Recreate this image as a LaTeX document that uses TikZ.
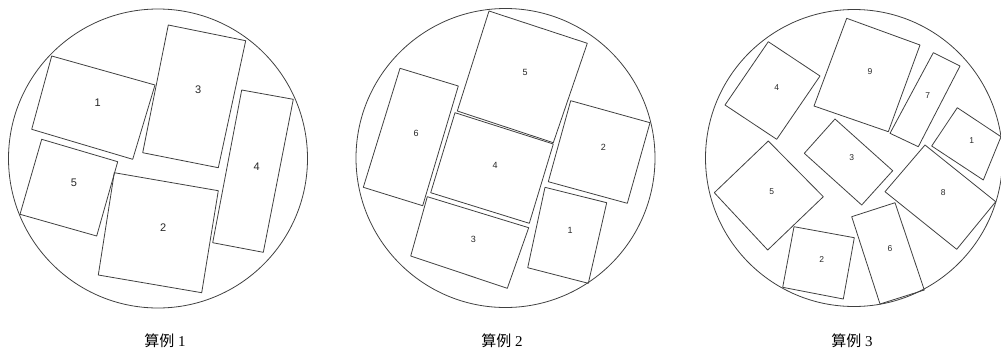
\documentclass[tikz,border=0pt]{standalone}
\usepackage{fontspec}
\setmainfont{Liberation Serif}
\newfontfamily\cjk{Noto Sans CJK SC}
\newfontfamily\lab{Liberation Sans}
\usetikzlibrary{positioning}

\begin{document}
\begin{tikzpicture}[x=1pt, y=-1pt, line join=round]
    \useasboundingbox (0,0) rectangle (1001,354);
    \tikzset{
      piece/.style={draw=black!75, line width=0.8pt},
      num/.style={font=\lab\fontsize{#1}{#1}\selectfont, text=black!85, inner sep=0pt},
      casename/.style={font=\fontsize{15}{15}\selectfont, inner sep=0pt}
    }

    % case 1
    \coordinate (C1) at (158,158.5);
    \draw[piece] (C1) circle (149.5);
    \draw[piece] (51.7,56) -- (155,85) -- (132.7,159.3) -- (31.7,129.3) -- cycle;
    \draw[piece] (168.3,25) -- (245.7,40.7) -- (218.3,167.7) -- (142.7,152.7) -- cycle;
    \draw[piece] (241.7,90) -- (293.3,99.3) -- (263.3,252.3) -- (212.7,242.7) -- cycle;
    \draw[piece] (41.7,139.3) -- (117.7,161.7) -- (96.7,236) -- (20,214.3) -- cycle;
    \draw[piece] (114.3,172.7) -- (218.3,190.7) -- (201.7,292.7) -- (98.3,275) -- cycle;
    \node[num=11] (a1) at (97.7,102.7) {1};
    \node[num=11] (a3) at (198.3,90) {3};
    \node[num=11] (a4) at (256.7,166.7) {4};
    \node[num=11] (a5) at (74,182.7) {5};
    \node[num=11] (a2) at (163.3,227.7) {2};

    % case 2
    \coordinate (C2) at (505.5,158);
    \draw[piece] (C2) circle (149.5);
    \draw[piece] (489,11) -- (587.3,43.3) -- (553.3,142.7) -- (457.3,111) -- cycle;
    \draw[piece] (400,68.3) -- (458.3,86) -- (422.7,205.7) -- (363.3,187.3) -- cycle;
    \draw[piece] (455,112.7) -- (553.3,144) -- (529.3,223.3) -- (430.7,192.7) -- cycle;
    \draw[piece] (570.7,100.7) -- (650,122.7) -- (627.3,203.3) -- (548.3,181.7) -- cycle;
    \draw[piece] (427.3,196.7) -- (528.7,227.7) -- (507.3,288.3) -- (410.7,256) -- cycle;
    \draw[piece] (545,187.3) -- (606.7,202.7) -- (588.3,283.3) -- (527.7,267.7) -- cycle;
    \node[num=9] (b5) at (525,72.7) {5};
    \node[num=9] (b6) at (416,133.3) {6};
    \node[num=9] (b4) at (495,165.7) {4};
    \node[num=9] (b2) at (603.3,147.7) {2};
    \node[num=9] (b3) at (473.3,239.3) {3};
    \node[num=9] (b1) at (570,230) {1};

    % case 3
    \coordinate (C3) at (854,158);
    \draw[piece] (C3) circle (148.5);
    \draw[piece] (768.3,41.7) -- (820,76) -- (776.7,139.3) -- (725,105) -- cycle;
    \draw[piece] (846.7,18.3) -- (920,45) -- (888.3,131.7) -- (814,106) -- cycle;
    \draw[piece] (933.3,52.7) -- (960,66) -- (918.3,146.7) -- (890,133.3) -- cycle;
    \draw[piece] (957.3,107.7) -- (1001,136.7) -- (983.3,180) -- (931.7,146) -- cycle;
    \draw[piece] (835,119) -- (892.7,170.7) -- (861.7,205) -- (804.3,153.3) -- cycle;
    \draw[piece] (768.3,141) -- (823.3,196.7) -- (767.7,250) -- (714.3,192.7) -- cycle;
    \draw[piece] (925,145) -- (995.7,201.7) -- (956.7,249.3) -- (885,191.7) -- cycle;
    \draw[piece] (794,226.7) -- (854.3,237.7) -- (843.3,299) -- (782.7,287.3) -- cycle;
    \draw[piece] (851.7,216.7) -- (895,202.7) -- (924.3,290) -- (880,304) -- cycle;
    \node[num=8.5] (c4) at (776.7,87.3) {4};
    \node[num=8.5] (c9) at (870,71.7) {9};
    \node[num=8.5] (c7) at (927.7,95.7) {7};
    \node[num=8.5] (c1) at (971.7,140.7) {1};
    \node[num=8.5] (c3) at (851.7,157.7) {3};
    \node[num=8.5] (c5) at (771.7,191.7) {5};
    \node[num=8.5] (c8) at (943.3,192.7) {8};
    \node[num=8.5] (c2) at (821.7,259.3) {2};
    \node[num=8.5] (c6) at (890,248.3) {6};

    % captions
    \node[casename] (t1) at (165,341) {{\cjk 算例} 1};
    \node[casename] (t2) at (502,341) {{\cjk 算例} 2};
    \node[casename] (t3) at (852,341) {{\cjk 算例} 3};
  \end{tikzpicture}
\end{document}
